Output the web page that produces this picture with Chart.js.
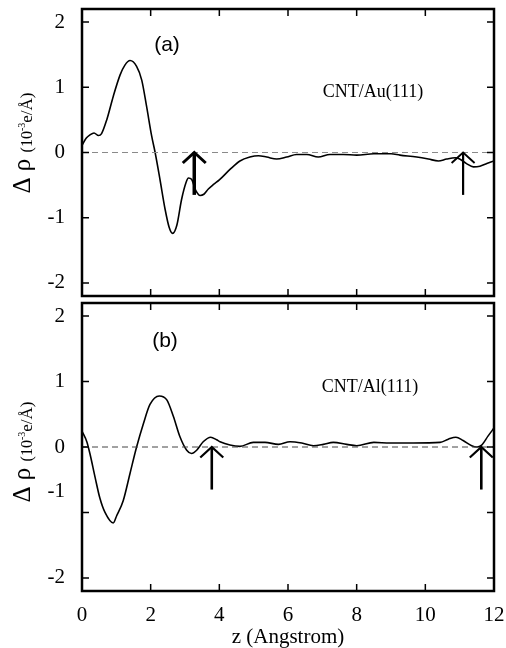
<!DOCTYPE html>
<html><head><meta charset="utf-8">
<script src="https://cdn.jsdelivr.net/npm/chart.js@4/dist/chart.umd.min.js"></script>
<style>
html,body{margin:0;padding:0;background:#fff;}
#wrap{position:relative;width:506px;height:648px;background:#fff;}
#ca{position:absolute;left:0;top:0;}
#cb{position:absolute;left:0;top:300px;}
</style></head><body>
<div id="wrap">
<canvas id="ca" width="506" height="300"></canvas>
<canvas id="cb" width="506" height="348"></canvas>
</div>
<script>
// ---- data ----
const xTicks = [0, 2, 4, 6, 8, 10, 12];
const yTicks = [-2, -1, 0, 1, 2];

// panel (a) CNT/Au(111)
const zA = [0, 0.12, 0.23, 0.35, 0.48, 0.57, 0.72, 0.91, 1.11, 1.25, 1.40, 1.59, 1.74, 1.88, 2.03, 2.13, 2.27, 2.42, 2.54, 2.64, 2.76, 2.90, 3.03, 3.10, 3.19, 3.32, 3.44, 3.55, 3.68, 3.83, 4.0, 4.31, 4.60, 4.89, 5.14, 5.38, 5.67, 5.96, 6.25, 6.55, 6.88, 7.22, 7.61, 8.0, 8.5, 9.0, 9.26, 9.75, 10.09, 10.38, 10.62, 10.87, 11.0, 11.2, 11.40, 11.59, 11.79, 12.0];
const rhoA = [0.11, 0.22, 0.27, 0.30, 0.26, 0.29, 0.50, 0.86, 1.19, 1.34, 1.41, 1.32, 1.11, 0.71, 0.25, 0.0, -0.41, -0.87, -1.15, -1.24, -1.12, -0.72, -0.46, -0.39, -0.41, -0.59, -0.66, -0.64, -0.56, -0.49, -0.42, -0.26, -0.13, -0.07, -0.05, -0.07, -0.10, -0.07, -0.03, -0.03, -0.07, -0.03, -0.03, -0.04, -0.02, -0.02, -0.04, -0.07, -0.10, -0.13, -0.10, -0.08, -0.10, -0.17, -0.22, -0.21, -0.17, -0.13];

// panel (b) CNT/Al(111)
const zB = [0, 0.14, 0.23, 0.38, 0.52, 0.67, 0.91, 1.01, 1.20, 1.40, 1.59, 1.79, 1.98, 2.25, 2.47, 2.66, 2.85, 3.05, 3.19, 3.34, 3.53, 3.75, 3.92, 4.02, 4.31, 4.60, 4.99, 5.33, 5.72, 6.06, 6.40, 6.74, 7.03, 7.32, 7.71, 8.0, 8.5, 8.97, 9.65, 10.43, 10.67, 10.89, 11.1, 11.35, 11.5, 11.64, 11.83, 12.0];
const rhoB = [0.24, 0.08, -0.10, -0.46, -0.78, -1.0, -1.16, -1.05, -0.82, -0.40, 0.0, 0.36, 0.65, 0.78, 0.72, 0.47, 0.16, -0.05, -0.10, -0.05, 0.08, 0.15, 0.11, 0.08, 0.03, 0.01, 0.07, 0.07, 0.04, 0.08, 0.06, 0.02, 0.04, 0.07, 0.04, 0.02, 0.07, 0.06, 0.06, 0.07, 0.12, 0.15, 0.10, 0.02, 0.0, 0.03, 0.17, 0.29];

// arrows (z positions), from tail value to tip value
const arrowZA = [3.27, 11.1];
const arrowZB = [3.78, 11.63];
const arrowTail = -0.65;
const arrowTip = 0;

const panelLabels = ['(a)', '(b)'];
const systemLabels = ['CNT/Au(111)', 'CNT/Al(111)'];
const xTitle = 'z (Angstrom)';

// ---- helpers ----
const SERIF = '"Liberation Serif", "DejaVu Serif", serif';
const SANS = '"Liberation Sans", Arial, sans-serif';

function pts(xs, ys) { return xs.map((x, i) => ({x: x, y: ys[i]})); }

function zeroPad(s) { s.paddingTop = 0; s.paddingBottom = 0; s.paddingLeft = 0; s.paddingRight = 0; }

function makePlugin(p) {
  return {
    id: 'deco' + p.idx,
    afterDatasetsDraw(chart) {
      const ctx = chart.ctx, ca = chart.chartArea;
      const xs = chart.scales.x, ys = chart.scales.y;
      ctx.save();
      // arrows
      p.arrows.forEach((z, i) => {
        const px = xs.getPixelForValue(z);
        const y0 = ys.getPixelForValue(arrowTail);
        const y1 = ys.getPixelForValue(arrowTip);
        ctx.strokeStyle = '#000';
        ctx.lineWidth = p.arrowWidths[i];
        ctx.lineCap = 'butt';
        ctx.beginPath();
        ctx.moveTo(px, y0); ctx.lineTo(px, y1 + 1);
        ctx.stroke();
        ctx.lineWidth = p.arrowWidths[i] * 0.85;
        ctx.beginPath();
        ctx.moveTo(px - 11.5, y1 + 10.5);
        ctx.lineTo(px, y1);
        ctx.lineTo(px + 11.5, y1 + 10.5);
        ctx.stroke();
      });
      // frame
      ctx.strokeStyle = '#000';
      ctx.lineWidth = 2.5;
      ctx.strokeRect(ca.left, ca.top, ca.right - ca.left, ca.bottom - ca.top);
      // inward ticks
      ctx.lineWidth = 1.5;
      ctx.beginPath();
      yTicks.forEach(v => {
        const py = ys.getPixelForValue(v);
        ctx.moveTo(ca.left, py); ctx.lineTo(ca.left + 7, py);
        ctx.moveTo(ca.right, py); ctx.lineTo(ca.right - 7, py);
      });
      xTicks.forEach(v => {
        if (v === xs.min || v === xs.max) return;
        const px = xs.getPixelForValue(v);
        ctx.moveTo(px, ca.top); ctx.lineTo(px, ca.top + 7);
        ctx.moveTo(px, ca.bottom); ctx.lineTo(px, ca.bottom - 7);
      });
      ctx.stroke();
      // panel label
      ctx.fillStyle = '#000';
      ctx.textAlign = 'center';
      ctx.textBaseline = 'middle';
      ctx.font = '21px ' + SANS;
      ctx.fillText(panelLabels[p.idx], p.panelPos[0], p.panelPos[1]);
      ctx.font = '18px ' + SERIF;
      ctx.fillText(systemLabels[p.idx], p.sysPos[0], p.sysPos[1]);
      // misplaced tick label (as in original)
      if (p.extraLabel) {
        ctx.font = '21px ' + SERIF;
        ctx.textAlign = 'right';
        ctx.fillText(p.extraLabel.text, p.extraLabel.x, p.extraLabel.y);
      }
      // y axis title: Δ ρ (10^-3 e/Å)
      ctx.translate(p.yTitleX, p.yTitleCY);
      ctx.rotate(-Math.PI / 2);
      ctx.textAlign = 'left';
      ctx.textBaseline = 'alphabetic';
      const segs = [
        {t: 'Δ ρ ', f: '25px ' + SERIF, dy: -2},
        {t: '(10', f: '16px ' + SERIF, dy: 0},
        {t: '-3', f: '10px ' + SERIF, dy: -7},
        {t: 'e/Å)', f: '17px ' + SERIF, dy: 0}
      ];
      let total = 0;
      segs.forEach(s => { ctx.font = s.f; s.w = ctx.measureText(s.t).width; total += s.w; });
      let cx = -total / 2;
      segs.forEach(s => { ctx.font = s.f; ctx.fillText(s.t, cx, s.dy); cx += s.w; });
      ctx.restore();
    }
  };
}

function makeChart(canvasId, p) {
  const showX = p.showX;
  return new Chart(document.getElementById(canvasId), {
    type: 'line',
    data: {
      datasets: [
        {
          data: pts([xTicks[0], xTicks[xTicks.length - 1]], [0, 0]),
          borderColor: p.zeroColor, borderWidth: 1, borderDash: [6, 4],
          pointRadius: 0, tension: 0
        },
        {
          data: pts(p.z, p.rho),
          borderColor: '#000', borderWidth: 1.6,
          pointRadius: 0, cubicInterpolationMode: 'monotone'
        }
      ]
    },
    options: {
      responsive: false, animation: false, devicePixelRatio: 1,
      layout: {padding: {left: 0, right: 12, top: p.padTop, bottom: 0}},
      plugins: {legend: {display: false}, tooltip: {enabled: false}},
      scales: {
        x: {
          type: 'linear', min: 0, max: 12,
          afterBuildTicks: s => { s.ticks = xTicks.map(v => ({value: v})); },
          afterFit: s => { s.height = p.xHeight; zeroPad(s); },
          grid: {display: false, drawTicks: false},
          border: {display: false},
          ticks: {display: showX, padding: 12, color: '#000', font: {family: SERIF, size: 21}, maxRotation: 0},
          title: {display: showX, text: xTitle, color: '#000', font: {family: SERIF, size: 21, lineHeight: 1}, padding: {top: 0, bottom: 0}}
        },
        y: {
          min: -2.2, max: 2.2,
          afterBuildTicks: s => { s.ticks = yTicks.map(v => ({value: v})); },
          afterFit: s => { s.width = 82; zeroPad(s); },
          grid: {display: false, drawTicks: false},
          border: {display: false},
          ticks: {
            padding: 17, color: '#000', font: {family: SERIF, size: 21},
            callback: v => (p.hideY && p.hideY.includes(v)) ? '' : String(v)
          }
        }
      }
    },
    plugins: [makePlugin(p)]
  });
}

makeChart('ca', {
  idx: 0, z: zA, rho: rhoA, showX: false, padTop: 9, xHeight: 4,
  zeroColor: '#8a8a8a', arrows: arrowZA, arrowWidths: [3.5, 2.2],
  panelPos: [167, 45], sysPos: [373, 92],
  yTitleX: 32, yTitleCY: 143
});
makeChart('cb', {
  idx: 1, z: zB, rho: rhoB, showX: true, padTop: 3, xHeight: 57,
  zeroColor: '#444', arrows: arrowZB, arrowWidths: [2.6, 2.6],
  panelPos: [165, 41], sysPos: [370, 87],
  yTitleX: 32, yTitleCY: 152,
  hideY: [-1], extraLabel: {text: '-1', x: 65, y: 191}
});
</script>
</body></html>
